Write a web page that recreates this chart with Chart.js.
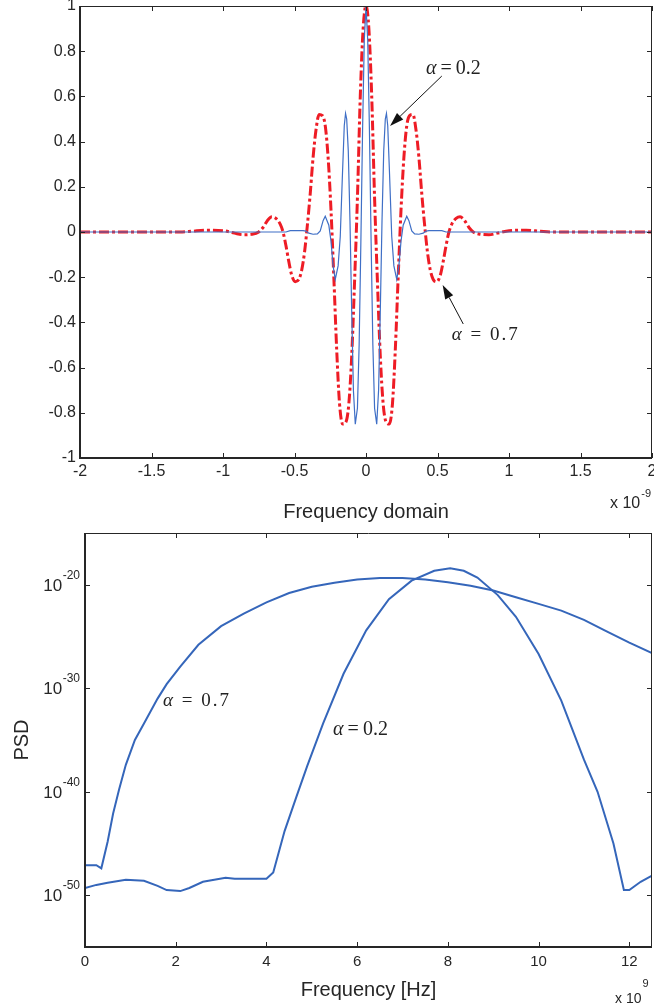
<!DOCTYPE html>
<html>
<head>
<meta charset="utf-8">
<title>Pulse shape and PSD</title>
<script src="https://cdn.jsdelivr.net/npm/chart.js@4.4.1/dist/chart.umd.min.js"></script>
<style>
  html, body { margin: 0; padding: 0; background: #fff; }
  body { width: 654px; height: 1006px; position: relative; overflow: hidden; }
  canvas { position: absolute; left: 0; }
  #pulse { top: 0; }
  #psd { top: 527px; }
</style>
</head>
<body>
<canvas id="pulse" width="654" height="527"></canvas>
<canvas id="psd" width="654" height="479"></canvas>
<script>
// ---- top chart: pulse shapes (x in units of 1e-9) ----
var pulseX02 = [-2, -0.56, -0.53, -0.44, -0.42, -0.40, -0.37, -0.34, -0.32, -0.30, -0.285, -0.26, -0.245, -0.23, -0.215, -0.195, -0.18, -0.165, -0.152, -0.143, -0.135, -0.124, -0.112, -0.1, -0.088, -0.075, -0.06, -0.048, -0.036, -0.024, -0.012,
  0, 0.012, 0.024, 0.036, 0.048, 0.06, 0.075, 0.088, 0.1, 0.112, 0.124, 0.135, 0.143, 0.152, 0.165, 0.18, 0.195, 0.215, 0.23, 0.245, 0.26, 0.285, 0.30, 0.32, 0.34, 0.37, 0.40, 0.42, 0.44, 0.53, 0.56, 2];
var pulseY02 = [0, 0, 0.006, 0.006, 0.004, -0.005, -0.01, -0.008, 0.005, 0.05, 0.07, 0.03, -0.04, -0.15, -0.21, -0.15, -0.02, 0.25, 0.47, 0.525, 0.50, 0.36, 0.05, -0.35, -0.70, -0.85, -0.78, -0.50, -0.05, 0.45, 0.85,
  1.0, 0.85, 0.45, -0.05, -0.50, -0.78, -0.85, -0.70, -0.35, 0.05, 0.36, 0.50, 0.525, 0.47, 0.25, -0.02, -0.15, -0.21, -0.15, -0.04, 0.03, 0.07, 0.05, 0.005, -0.008, -0.01, -0.005, 0.004, 0.006, 0.006, 0, 0];

var pulseX07 = [-2.0, -1.3, -1.22, -1.12, -1.0, -0.92, -0.86, -0.80, -0.75, -0.72, -0.69, -0.658, -0.63, -0.60, -0.58, -0.56, -0.54, -0.52, -0.495, -0.47, -0.45, -0.43, -0.41, -0.39, -0.37, -0.35, -0.328, -0.305, -0.285, -0.265, -0.245, -0.225, -0.205, -0.185, -0.163, -0.14, -0.12, -0.10, -0.08, -0.06, -0.04, -0.02,
  0, 0.02, 0.04, 0.06, 0.08, 0.10, 0.12, 0.14, 0.163, 0.185, 0.205, 0.225, 0.245, 0.265, 0.285, 0.305, 0.328, 0.35, 0.37, 0.39, 0.41, 0.43, 0.45, 0.47, 0.495, 0.52, 0.54, 0.56, 0.58, 0.60, 0.63, 0.658, 0.69, 0.72, 0.75, 0.80, 0.86, 0.92, 1.0, 1.12, 1.22, 1.3, 2.0];
var pulseY07 = [0.0, 0.0, 0.003, 0.008, 0.006, -0.005, -0.012, -0.01, 0.0, 0.02, 0.05, 0.067, 0.06, 0.035, 0.0, -0.06, -0.13, -0.19, -0.22, -0.21, -0.17, -0.09, 0.03, 0.17, 0.33, 0.45, 0.52, 0.515, 0.47, 0.33, 0.10, -0.20, -0.52, -0.76, -0.85, -0.84, -0.76, -0.55, -0.22, 0.15, 0.60, 0.90,
  1.0, 0.90, 0.60, 0.15, -0.22, -0.55, -0.76, -0.84, -0.85, -0.76, -0.52, -0.20, 0.10, 0.33, 0.47, 0.515, 0.52, 0.45, 0.33, 0.17, 0.03, -0.09, -0.17, -0.21, -0.22, -0.19, -0.13, -0.06, 0.0, 0.035, 0.06, 0.067, 0.05, 0.02, 0.0, -0.01, -0.012, -0.005, 0.006, 0.008, 0.003, 0.0, 0.0];

var pulseTicksX = [-2, -1.5, -1, -0.5, 0, 0.5, 1, 1.5, 2];
var pulseTicksY = [-1, -0.8, -0.6, -0.4, -0.2, 0, 0.2, 0.4, 0.6, 0.8, 1];

// ---- bottom chart: PSD (frequency in units of 1e9 Hz, PSD as log10) ----
var psdFreq07 = [0, 0.25, 0.36, 0.5, 0.62, 0.75, 0.9, 1.1, 1.3, 1.6, 1.8, 2.1, 2.5, 3.0, 3.5, 4.0, 4.5, 5.0, 5.5, 6.0, 6.5, 7.0, 7.5, 8.0, 8.5, 9.0, 9.5, 10.0, 10.5, 11.0, 11.5, 12.0, 12.5];
var psdLog07 = [-47.1, -47.1, -47.4, -44.8, -42.1, -39.8, -37.4, -35.0, -33.4, -31.0, -29.6, -27.9, -25.8, -24.0, -22.8, -21.7, -20.8, -20.2, -19.8, -19.5, -19.35, -19.35, -19.5, -19.75, -20.1, -20.55, -21.2, -21.85, -22.5, -23.4, -24.5, -25.6, -26.6];

var psdFreq02 = [0, 0.25, 0.5, 0.9, 1.3, 1.6, 1.8, 2.1, 2.3, 2.6, 3.1, 3.3, 4.0, 4.15, 4.4, 4.66, 4.9, 5.25, 5.7, 6.2, 6.7, 7.2, 7.7, 8.05, 8.35, 8.65, 9.1, 9.5, 10.0, 10.5, 11.0, 11.3, 11.65, 11.88, 12.0, 12.25, 12.5];
var psdLog02 = [-49.3, -49.0, -48.8, -48.5, -48.6, -49.1, -49.5, -49.6, -49.3, -48.7, -48.3, -48.4, -48.4, -47.8, -43.8, -40.5, -37.5, -33.4, -28.6, -24.4, -21.4, -19.6, -18.65, -18.4, -18.65, -19.3, -21.0, -23.1, -26.7, -31.2, -36.9, -40.0, -45.0, -49.5, -49.5, -48.7, -48.1];

var psdTicksFreq = [0, 2, 4, 6, 8, 10, 12];
var psdTicksExp = [-50, -40, -30, -20];

// annotation anchors, in data units
var pulseNotes = [
  { value: '0.2', x: 0.42, y: 0.70, spacing: 0, from: [0.53, 0.69], to: [0.168, 0.469] },
  { value: '0.7', x: 0.60, y: -0.478, spacing: 2, from: [0.68, -0.407], to: [0.536, -0.235] }
];
var psdNotes = [
  { value: '0.7', x: 1.72, exp: -31.67, spacing: 2 },
  { value: '0.2', x: 5.47, exp: -34.56, spacing: 0 }
];

// Colors / fonts
var axisColor = '#262626';
var blueThin = '#3f6fc6';
var bluePsd = '#3566ba';
var redColor = '#ee1c25';
var serif = '"Liberation Serif", "Times New Roman", serif';

Chart.defaults.font.family = '"Liberation Sans", Arial, Helvetica, sans-serif';
Chart.defaults.color = axisColor;

function pairs(xs, ys) {
  return xs.map(function (x, i) { return { x: x, y: ys[i] }; });
}
function logPairs(xs, exps) {
  return xs.map(function (x, i) { return { x: x, y: Math.pow(10, exps[i]) }; });
}

// alpha label: italic greek letter + upright rest
function drawAlpha(ctx, px, py, value, spacing) {
  ctx.save();
  ctx.fillStyle = '#222';
  ctx.textBaseline = 'alphabetic';
  ctx.textAlign = 'left';
  var size = spacing ? 19 : 20;
  ctx.font = 'italic ' + size + 'px ' + serif;
  ctx.fillText('\u03b1', px, py);
  var w = ctx.measureText('\u03b1').width;
  ctx.font = size + 'px ' + serif;
  if (spacing) {
    ctx.letterSpacing = spacing + 'px';
    ctx.fillText(' = ' + value, px + w + spacing, py);
  } else {
    ctx.fillText('\u2009=\u2009' + value, px + w, py);
  }
  ctx.restore();
}

function drawArrow(ctx, x1, y1, x2, y2) {
  var ang = Math.atan2(y2 - y1, x2 - x1);
  var len = 14, half = 4.5;
  var bx = x2 - len * Math.cos(ang), by = y2 - len * Math.sin(ang);
  ctx.save();
  ctx.strokeStyle = '#111';
  ctx.fillStyle = '#111';
  ctx.lineWidth = 1;
  ctx.beginPath();
  ctx.moveTo(x1, y1);
  ctx.lineTo(bx, by);
  ctx.stroke();
  ctx.beginPath();
  ctx.moveTo(x2, y2);
  ctx.lineTo(bx + half * Math.sin(ang), by - half * Math.cos(ang));
  ctx.lineTo(bx - half * Math.sin(ang), by + half * Math.cos(ang));
  ctx.closePath();
  ctx.fill();
  ctx.restore();
}

// MATLAB-like box with inward ticks on all four sides
var matlabBox = {
  id: 'matlabBox',
  afterDatasetsDraw: function (chart) {
    var ctx = chart.ctx, a = chart.chartArea, x = chart.scales.x, y = chart.scales.y;
    ctx.save();
    ctx.strokeStyle = axisColor;
    ctx.lineWidth = 1;
    ctx.beginPath();
    x.ticks.forEach(function (t) {
      var px = Math.round(x.getPixelForValue(t.value)) + 0.5;
      ctx.moveTo(px, a.bottom); ctx.lineTo(px, a.bottom - 5);
      ctx.moveTo(px, a.top); ctx.lineTo(px, a.top + 5);
    });
    y.ticks.forEach(function (t) {
      var py = Math.round(y.getPixelForValue(t.value)) + 0.5;
      ctx.moveTo(a.left, py); ctx.lineTo(a.left + 5, py);
      ctx.moveTo(a.right, py); ctx.lineTo(a.right - 5, py);
    });
    ctx.stroke();
    // top and right edges
    ctx.beginPath();
    ctx.moveTo(a.left, Math.round(a.top) + 0.5);
    ctx.lineTo(a.right, Math.round(a.top) + 0.5);
    ctx.moveTo(Math.round(a.right) - 0.5, a.top);
    ctx.lineTo(Math.round(a.right) - 0.5, a.bottom);
    ctx.stroke();
    // left and bottom edges, heavier
    ctx.lineWidth = 2;
    ctx.beginPath();
    ctx.moveTo(Math.round(a.left), a.top);
    ctx.lineTo(Math.round(a.left), Math.round(a.bottom));
    ctx.lineTo(a.right, Math.round(a.bottom));
    ctx.stroke();
    ctx.restore();
  }
};

// "x 10^n" multiplier under the right end of the x axis
var axisExponent = {
  id: 'axisExponent',
  afterDraw: function (chart, args, o) {
    var ctx = chart.ctx, a = chart.chartArea;
    ctx.save();
    ctx.fillStyle = axisColor;
    ctx.textAlign = 'left';
    ctx.textBaseline = 'alphabetic';
    ctx.font = o.size + 'px "Liberation Sans", Arial, sans-serif';
    var px = a.right + o.dx, py = a.bottom + o.dy;
    ctx.fillText(o.base, px, py);
    var w = ctx.measureText(o.base).width;
    ctx.font = o.supSize + 'px "Liberation Sans", Arial, sans-serif';
    ctx.fillText(o.exp, px + w + 1, py - o.rise);
    ctx.restore();
  }
};

// top chart annotations
var pulseAnnotations = {
  id: 'pulseAnnotations',
  afterDraw: function (chart) {
    var ctx = chart.ctx, x = chart.scales.x, y = chart.scales.y;
    pulseNotes.forEach(function (n) {
      drawArrow(ctx, x.getPixelForValue(n.from[0]), y.getPixelForValue(n.from[1]),
        x.getPixelForValue(n.to[0]), y.getPixelForValue(n.to[1]));
      drawAlpha(ctx, x.getPixelForValue(n.x), y.getPixelForValue(n.y), n.value, n.spacing);
    });
  }
};

// bottom chart: power-of-ten tick labels + annotations
var psdDecorations = {
  id: 'psdDecorations',
  afterDraw: function (chart) {
    var ctx = chart.ctx, a = chart.chartArea, x = chart.scales.x, y = chart.scales.y;
    ctx.save();
    ctx.fillStyle = axisColor;
    ctx.textBaseline = 'alphabetic';
    ctx.textAlign = 'right';
    psdTicksExp.forEach(function (e) {
      var py = y.getPixelForValue(Math.pow(10, e));
      var right = a.left - 5;
      ctx.font = '12px "Liberation Sans", Arial, sans-serif';
      var sup = String(e);
      var sw = ctx.measureText(sup).width;
      ctx.fillText(sup, right, py - 6);
      ctx.font = '17px "Liberation Sans", Arial, sans-serif';
      ctx.fillText('10', right - sw - 0.5, py + 6);
    });
    ctx.restore();
    psdNotes.forEach(function (n) {
      drawAlpha(ctx, x.getPixelForValue(n.x), y.getPixelForValue(Math.pow(10, n.exp)), n.value, n.spacing);
    });
  }
};

// ---- top chart ----
new Chart(document.getElementById('pulse'), {
  type: 'line',
  data: {
    datasets: [
      {
        label: '\u03b1 = 0.2',
        data: pairs(pulseX02, pulseY02),
        borderColor: blueThin,
        borderWidth: 1.2,
        pointRadius: 0,
        tension: 0
      },
      {
        label: '\u03b1 = 0.7',
        data: pairs(pulseX07, pulseY07),
        borderColor: redColor,
        borderWidth: 3,
        borderDash: [10, 3, 3, 3],
        pointRadius: 0,
        cubicInterpolationMode: 'monotone'
      }
    ]
  },
  options: {
    responsive: false,
    animation: false,
    events: [],
    layout: { padding: { top: 6, right: 2, left: 0, bottom: 0 } },
    plugins: {
      legend: { display: false },
      tooltip: { enabled: false },
      axisExponent: { base: 'x 10', exp: '-9', size: 16, supSize: 11, rise: 11, dx: -42, dy: 50 }
    },
    scales: {
      x: {
        type: 'linear',
        min: -2,
        max: 2,
        afterBuildTicks: function (s) { s.ticks = pulseTicksX.map(function (v) { return { value: v }; }); },
        afterFit: function (s) { s.height = 69; s.paddingLeft = 0; s.paddingRight = 0; },
        grid: { display: false, drawTicks: false },
        border: { display: false },
        ticks: { font: { size: 16 }, padding: 4, autoSkip: false, maxRotation: 0, callback: function (v) { return String(v); } },
        title: { display: true, text: 'Frequency domain', font: { size: 20 }, padding: { top: 0, bottom: 3 } }
      },
      y: {
        min: -1,
        max: 1,
        afterBuildTicks: function (s) { s.ticks = pulseTicksY.map(function (v) { return { value: v }; }); },
        afterFit: function (s) { s.width = 80; s.paddingTop = 0; s.paddingBottom = 0; },
        grid: { display: false, drawTicks: false },
        border: { display: false },
        ticks: { font: { size: 16 }, padding: 4, autoSkip: false, callback: function (v) { return String(v); } }
      }
    }
  },
  plugins: [matlabBox, axisExponent, pulseAnnotations]
});

// ---- bottom chart ----
new Chart(document.getElementById('psd'), {
  type: 'line',
  data: {
    datasets: [
      {
        label: '\u03b1 = 0.7',
        data: logPairs(psdFreq07, psdLog07),
        borderColor: bluePsd,
        borderWidth: 2,
        pointRadius: 0,
        tension: 0
      },
      {
        label: '\u03b1 = 0.2',
        data: logPairs(psdFreq02, psdLog02),
        borderColor: bluePsd,
        borderWidth: 2,
        pointRadius: 0,
        tension: 0
      }
    ]
  },
  options: {
    responsive: false,
    animation: false,
    events: [],
    layout: { padding: { top: 6, right: 2, left: 0, bottom: 0 } },
    plugins: {
      legend: { display: false },
      tooltip: { enabled: false },
      axisExponent: { base: 'x 10', exp: '9', size: 14, supSize: 11, rise: 16, dx: -37, dy: 56 }
    },
    scales: {
      x: {
        type: 'linear',
        min: 0,
        max: 12.5,
        afterBuildTicks: function (s) { s.ticks = psdTicksFreq.map(function (v) { return { value: v }; }); },
        afterFit: function (s) { s.height = 59; s.paddingLeft = 0; s.paddingRight = 0; },
        grid: { display: false, drawTicks: false },
        border: { display: false },
        ticks: { font: { size: 15 }, padding: 6, autoSkip: false, maxRotation: 0, callback: function (v) { return String(v); } },
        title: { display: true, text: 'Frequency [Hz]', font: { size: 20 }, padding: { top: 0, bottom: 4 } }
      },
      y: {
        type: 'logarithmic',
        min: 1e-55,
        max: 1e-15,
        afterBuildTicks: function (s) { s.ticks = psdTicksExp.map(function (e) { return { value: Math.pow(10, e) }; }); },
        afterFit: function (s) { s.width = 85; s.paddingTop = 0; s.paddingBottom = 0; },
        grid: { display: false, drawTicks: false },
        border: { display: false },
        ticks: { autoSkip: false, callback: function () { return ''; } },
        title: { display: true, text: 'PSD', font: { size: 20 }, padding: { top: 10, bottom: 0 } }
      }
    }
  },
  plugins: [matlabBox, axisExponent, psdDecorations]
});
</script>
</body>
</html>
